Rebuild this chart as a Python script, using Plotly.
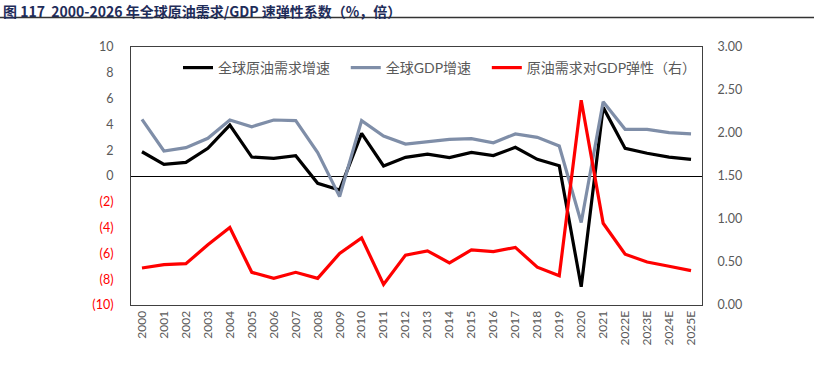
import plotly.graph_objects as go

years = ["2000", "2001", "2002", "2003", "2004", "2005", "2006", "2007", "2008", "2009",
         "2010", "2011", "2012", "2013", "2014", "2015", "2016", "2017", "2018", "2019",
         "2020", "2021", "2022E", "2023E", "2024E", "2025E"]
oil_growth = [1.88, 0.90, 1.06, 2.15, 3.95, 1.47, 1.37, 1.57, -0.57, -1.08,
              3.30, 0.78, 1.45, 1.70, 1.42, 1.83, 1.58, 2.22, 1.29, 0.80,
              -8.59, 5.32, 2.14, 1.76, 1.47, 1.29]
gdp_growth = [4.39, 1.94, 2.20, 2.92, 4.34, 3.82, 4.34, 4.29, 1.81, -1.60,
              4.29, 3.10, 2.48, 2.66, 2.84, 2.90, 2.58, 3.26, 3.00, 2.33,
              -3.60, 5.76, 3.62, 3.62, 3.36, 3.26]
elasticity = [0.43, 0.47, 0.48, 0.70, 0.90, 0.38, 0.31, 0.38, 0.31, 0.60,
              0.78, 0.24, 0.58, 0.63, 0.49, 0.64, 0.62, 0.67, 0.44, 0.34,
              2.38, 0.95, 0.59, 0.50, 0.45, 0.40]
left_ticks = [-10, -8, -6, -4, -2, 0, 2, 4, 6, 8, 10]
right_ticks = [0, 0.5, 1.0, 1.5, 2.0, 2.5, 3.0]
title_text = "图 117\u00a0\u00a02000-2026 年全球原油需求/GDP 速弹性系数（%，倍）"

W, H = 814, 387
L, R, T, B = 131, 112, 47, 82
pw, ph = W - L - R, H - T - B

FONT = "Lato, Noto Sans CJK SC, sans-serif"
GRAY = "#595959"

def left_label(v):
    if v < 0:
        return '<span style="color:#ff0000">(%d)</span>' % abs(v)
    return str(v)

fig = go.Figure()
fig.add_trace(go.Scatter(x=years, y=oil_growth, mode="lines", name="全球原油需求增速\u00a0\u00a0\u00a0",
                         line=dict(color="#000000", width=3.2)))
fig.add_trace(go.Scatter(x=years, y=gdp_growth, mode="lines", name="全球GDP增速\u00a0\u00a0\u00a0",
                         line=dict(color="#7f8ea8", width=3.2)))
fig.add_trace(go.Scatter(x=years, y=elasticity, mode="lines", name="原油需求对GDP弹性（右）",
                         line=dict(color="#ff0000", width=3.2), yaxis="y2"))

fig.update_layout(
    width=W, height=H,
    margin=dict(l=L, r=R, t=T, b=B),
    paper_bgcolor="white", plot_bgcolor="white",
    font=dict(family=FONT, size=12, color=GRAY),
    showlegend=True,
    legend=dict(orientation="h", x=(178 - L) / pw, xanchor="left",
                y=1 - 5 / ph, yanchor="top", bgcolor="rgba(0,0,0,0)",
                font=dict(size=14, color=GRAY, family=FONT),
                itemwidth=30, tracegroupgap=0),
    xaxis=dict(type="category", categoryorder="array", categoryarray=years,
               range=[-0.5, len(years) - 0.5],
               tickangle=-90, tickfont=dict(size=12, color=GRAY),
               showline=True, linecolor="#404040", linewidth=1, mirror=True,
               showgrid=False, ticks="", ticklen=0, automargin=False),
    yaxis=dict(range=[-10, 10], tickvals=left_ticks,
               ticktext=[left_label(v) for v in left_ticks],
               tickfont=dict(size=12.5, color=GRAY),
               showgrid=False, zeroline=True, zerolinecolor="#000000", zerolinewidth=1,
               showline=True, linecolor="#404040", linewidth=1, ticks="",
               ticklabelstandoff=14, automargin=False),
    yaxis2=dict(range=[0, 3], tickvals=right_ticks,
                ticktext=["%.2f" % v for v in right_ticks],
                overlaying="y", side="right", showgrid=False, zeroline=False,
                showline=True, linecolor="#404040", linewidth=1,
                tickfont=dict(size=12.5, color=GRAY), ticks="",
                ticklabelstandoff=12, automargin=False),
)

fig.add_annotation(text="<b>%s</b>" % title_text, showarrow=False,
                   xref="paper", yref="paper",
                   x=(2 - L) / pw, xanchor="left",
                   y=(ph + T - 0.5) / ph, yanchor="top",
                   font=dict(size=14, color="#1f2d5a", family="Noto Sans CJK SC, sans-serif"),
                   borderpad=0)

fig.add_shape(type="line", xref="paper", yref="paper",
              x0=-L / pw, x1=(W - L) / pw, y0=(ph + T - 17.5) / ph, y1=(ph + T - 17.5) / ph,
              line=dict(color="#333333", width=1.5))

fig.write_html("out.html", config={"displayModeBar": False},
               post_script="document.body.style.margin='0';document.body.style.padding='0';")
